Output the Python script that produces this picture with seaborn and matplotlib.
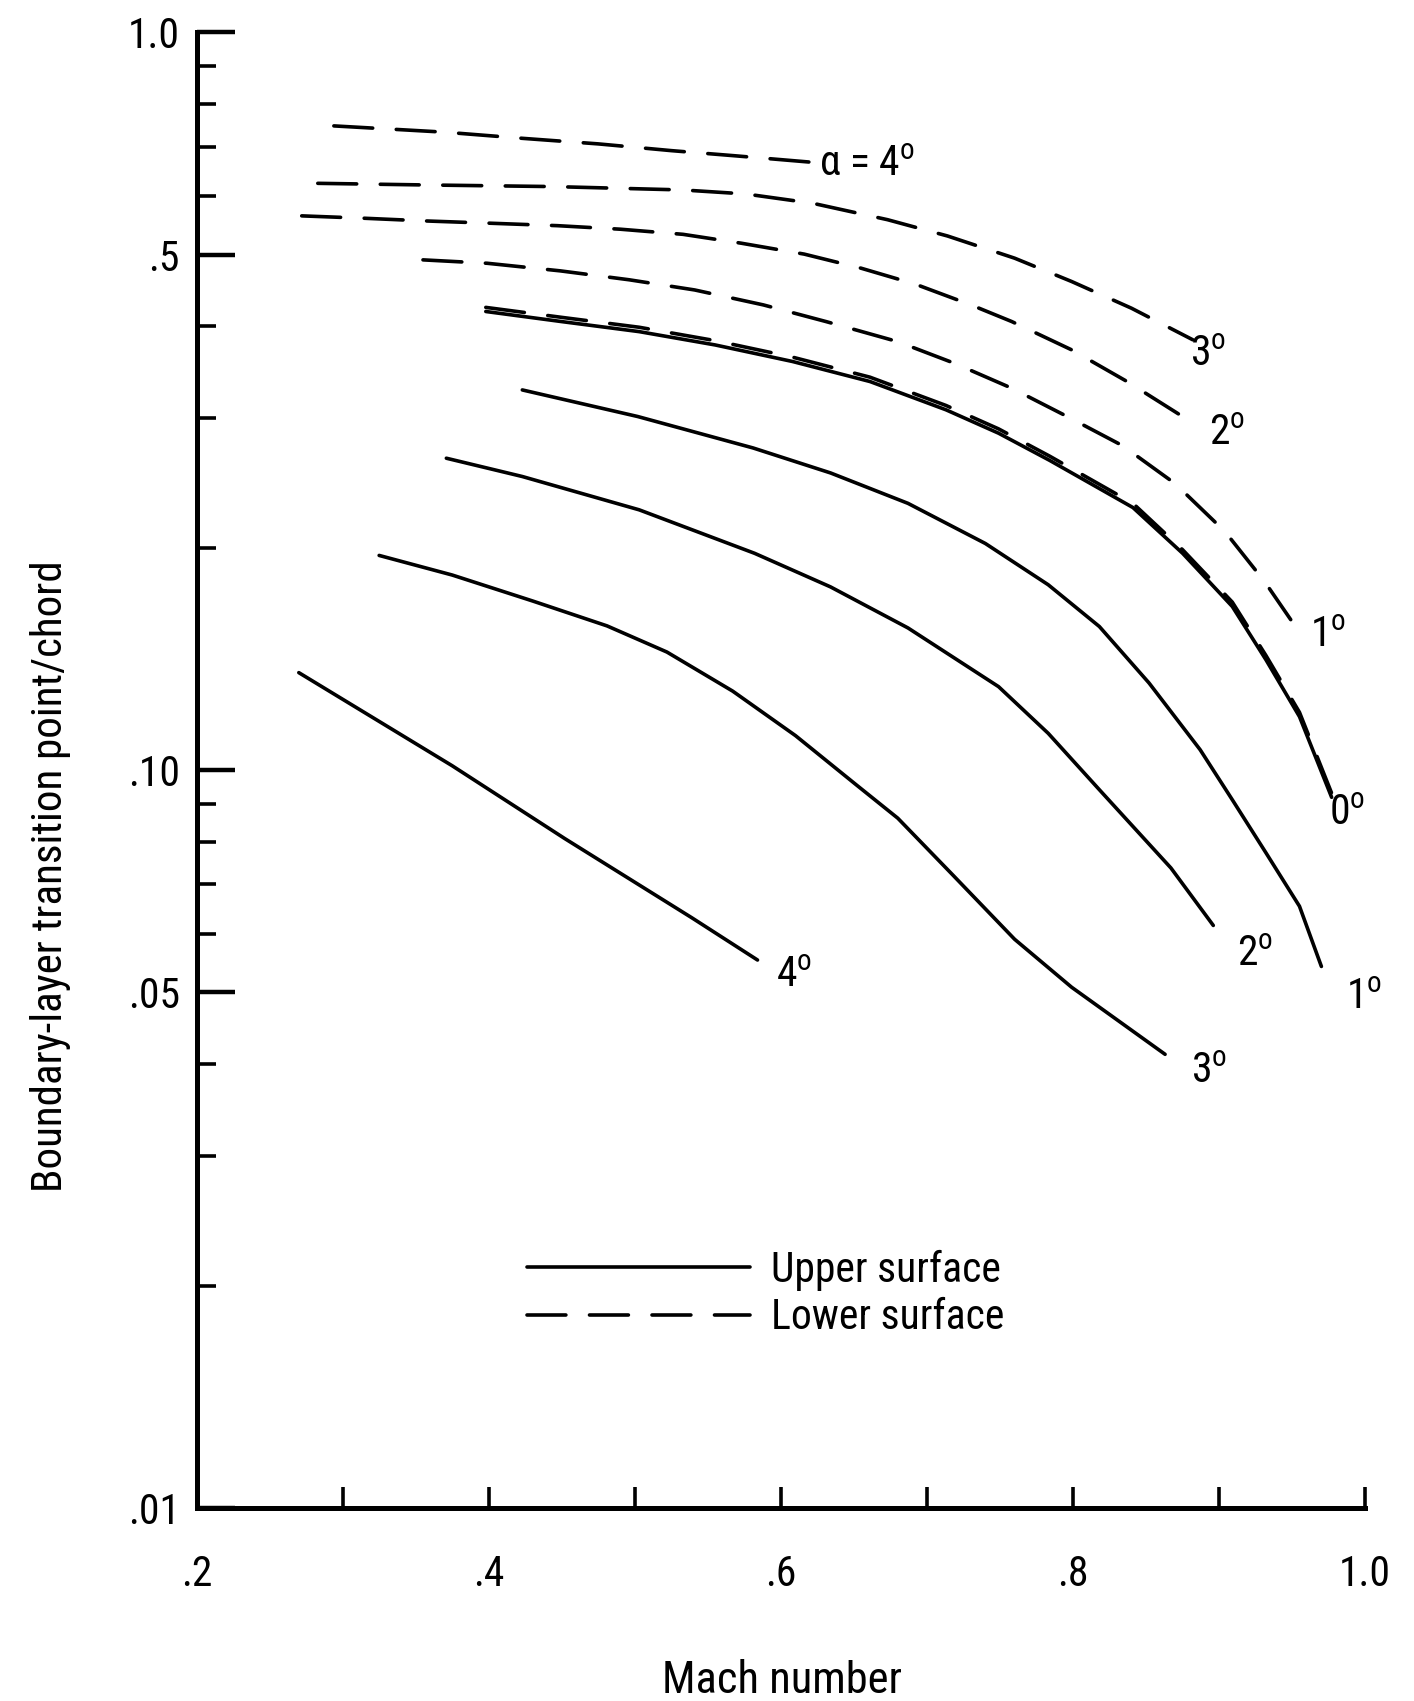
import numpy as np
import pandas as pd
import matplotlib
matplotlib.use("Agg")
import matplotlib.pyplot as plt
from matplotlib.lines import Line2D
from matplotlib.ticker import FixedLocator, FixedFormatter, NullFormatter
from matplotlib import font_manager as fm
import seaborn as sns

# ---------------- data ----------------
# Upper surface (solid lines)
upper_0_mach = [0.398, 0.450, 0.503, 0.555, 0.608, 0.661, 0.713, 0.749, 0.784, 0.841, 0.875, 0.909, 0.932, 0.955, 0.977]
upper_0_xtr = [0.4186, 0.4056, 0.3931, 0.3771, 0.3581, 0.3364, 0.3080, 0.2863, 0.2630, 0.2270, 0.1968, 0.1667, 0.1412, 0.1182, 0.0919]

upper_1_mach = [0.423, 0.502, 0.581, 0.634, 0.687, 0.740, 0.783, 0.818, 0.852, 0.887, 0.909, 0.932, 0.955, 0.970]
upper_1_xtr = [0.3277, 0.3016, 0.2734, 0.2529, 0.2300, 0.2029, 0.1784, 0.1566, 0.1313, 0.1066, 0.0912, 0.0773, 0.0654, 0.0542]

upper_2_mach = [0.371, 0.423, 0.503, 0.582, 0.634, 0.687, 0.749, 0.783, 0.818, 0.841, 0.867, 0.896]
upper_2_xtr = [0.2648, 0.2501, 0.2254, 0.1968, 0.1772, 0.1559, 0.1298, 0.1122, 0.0941, 0.0839, 0.0737, 0.0616]

upper_3_mach = [0.325, 0.375, 0.430, 0.481, 0.522, 0.567, 0.610, 0.652, 0.680, 0.718, 0.760, 0.799, 0.863]
upper_3_xtr = [0.1955, 0.1839, 0.1696, 0.1569, 0.1446, 0.1280, 0.1114, 0.0954, 0.0861, 0.0720, 0.0590, 0.0508, 0.0412]

upper_4_mach = [0.270, 0.375, 0.452, 0.539, 0.584]
upper_4_xtr = [0.1356, 0.1014, 0.0808, 0.0631, 0.0553]

# Lower surface (dashed lines)
lower_0_mach = [0.398, 0.450, 0.503, 0.555, 0.608, 0.661, 0.713, 0.749, 0.784, 0.841, 0.875, 0.909, 0.932, 0.955, 0.977]
lower_0_xtr = [0.4240, 0.4110, 0.3985, 0.3822, 0.3630, 0.3410, 0.3122, 0.2902, 0.2665, 0.2300, 0.1990, 0.1690, 0.1431, 0.1198, 0.0931]

lower_1_mach = [0.355, 0.399, 0.449, 0.496, 0.541, 0.588, 0.631, 0.680, 0.719, 0.758, 0.796, 0.834, 0.870, 0.904, 0.931, 0.949]
lower_1_xtr = [0.4918, 0.4866, 0.4752, 0.4622, 0.4477, 0.4273, 0.4056, 0.3810, 0.3560, 0.3295, 0.3016, 0.2753, 0.2445, 0.2106, 0.1803, 0.1600]

lower_2_mach = [0.272, 0.315, 0.357, 0.401, 0.447, 0.490, 0.533, 0.573, 0.616, 0.655, 0.692, 0.730, 0.758, 0.799, 0.837, 0.875]
lower_2_xtr = [0.5642, 0.5600, 0.5553, 0.5514, 0.5472, 0.5412, 0.5326, 0.5180, 0.5007, 0.4791, 0.4559, 0.4274, 0.4057, 0.3714, 0.3364, 0.3016]

lower_3_mach = [0.283, 0.355, 0.444, 0.533, 0.576, 0.622, 0.673, 0.714, 0.760, 0.799, 0.840, 0.882]
lower_3_xtr = [0.6245, 0.6214, 0.6182, 0.6117, 0.6041, 0.5867, 0.5575, 0.5299, 0.4944, 0.4597, 0.4229, 0.3832]

lower_4_mach = [0.294, 0.370, 0.423, 0.475, 0.525, 0.570, 0.621]
lower_4_xtr = [0.7471, 0.7326, 0.7187, 0.7063, 0.6916, 0.6802, 0.6670]

# Curve annotations
label_texts = ["α = 4$^{\\mathregular{o}}$", "3$^{\\mathregular{o}}$", "2$^{\\mathregular{o}}$",
               "1$^{\\mathregular{o}}$", "0$^{\\mathregular{o}}$", "1$^{\\mathregular{o}}$",
               "2$^{\\mathregular{o}}$", "3$^{\\mathregular{o}}$", "4$^{\\mathregular{o}}$"]
label_mach = [0.626, 0.880, 0.893, 0.962, 0.975, 0.987, 0.912, 0.881, 0.597]
label_xtr = [0.6395, 0.3536, 0.2762, 0.1471, 0.0844, 0.0475, 0.0543, 0.0377, 0.0508]

# Axis ticks
x_ticks = [0.2, 0.3, 0.4, 0.5, 0.6, 0.7, 0.8, 0.9, 1.0]
x_ticklabels = [".2", "", ".4", "", ".6", "", ".8", "", "1.0"]
y_major = [0.01, 0.05, 0.1, 0.5, 1.0]
y_major_labels = [".01", ".05", ".10", ".5", "1.0"]
y_minor = [0.02, 0.03, 0.04, 0.06, 0.07, 0.08, 0.09, 0.2, 0.3, 0.4, 0.6, 0.7, 0.8, 0.9]

# ---------------- build long table ----------------
series = {
    ("Upper surface", 0): (upper_0_mach, upper_0_xtr),
    ("Upper surface", 1): (upper_1_mach, upper_1_xtr),
    ("Upper surface", 2): (upper_2_mach, upper_2_xtr),
    ("Upper surface", 3): (upper_3_mach, upper_3_xtr),
    ("Upper surface", 4): (upper_4_mach, upper_4_xtr),
    ("Lower surface", 0): (lower_0_mach, lower_0_xtr),
    ("Lower surface", 1): (lower_1_mach, lower_1_xtr),
    ("Lower surface", 2): (lower_2_mach, lower_2_xtr),
    ("Lower surface", 3): (lower_3_mach, lower_3_xtr),
    ("Lower surface", 4): (lower_4_mach, lower_4_xtr),
}
rows = []
for (surf, alpha), (m, t) in series.items():
    for mi, ti in zip(m, t):
        rows.append({"surface": surf, "alpha": alpha, "curve": f"{surf}-{alpha}", "Mach": mi, "xtr": ti})
df = pd.DataFrame(rows)

# ---------------- style ----------------
sns.set_theme(style="white")

names = {f.name for f in fm.fontManager.ttflist}
cands = ["Liberation Sans Narrow", "Roboto Condensed", "Open Sans Condensed", "Noto Sans Condensed",
         "DejaVu Sans Condensed", "Arial Narrow"]
main_font = next((c for c in cands if c in names), None)
stretch = "normal"
if main_font is None:
    cond = [f for f in fm.fontManager.ttflist
            if f.name in ("Roboto", "Noto Sans", "Open Sans", "DejaVu Sans", "Lato", "Inter")
            and "condensed" in str(f.stretch) and f.style == "normal"]
    if cond:
        main_font = cond[0].name
        stretch = "condensed"
    else:
        main_font = "Liberation Sans" if "Liberation Sans" in names else "DejaVu Sans"

plt.rcParams["font.family"] = [main_font, "DejaVu Sans"]
plt.rcParams["font.stretch"] = stretch
plt.rcParams["mathtext.fontset"] = "custom"
plt.rcParams["mathtext.rm"] = main_font
plt.rcParams["mathtext.it"] = main_font
plt.rcParams["lines.scale_dashes"] = False
plt.rcParams["axes.edgecolor"] = "black"
plt.rcParams["text.color"] = "black"
plt.rcParams["axes.labelcolor"] = "black"
plt.rcParams["xtick.color"] = "black"
plt.rcParams["ytick.color"] = "black"

FS = 30
fig = plt.figure(figsize=(14.14, 17.01), dpi=100)
ax = fig.add_axes([0.139, 0.1135, 0.8265, 0.8674])

lw = 2.6
dash = (28, 17)
sns.lineplot(data=df, x="Mach", y="xtr", units="curve", estimator=None, sort=False,
             style="surface", dashes={"Upper surface": "", "Lower surface": dash},
             color="black", linewidth=lw, legend=False, ax=ax)
for line in ax.get_lines():
    line.set_solid_capstyle("round")
    line.set_dash_capstyle("round")
    line.set_solid_joinstyle("round")

ax.set_yscale("log")
ax.set_xlim(0.2, 1.0)
ax.set_ylim(0.01, 1.0)

ax.yaxis.set_major_locator(FixedLocator(y_major))
ax.yaxis.set_major_formatter(FixedFormatter(y_major_labels))
ax.yaxis.set_minor_locator(FixedLocator(y_minor))
ax.yaxis.set_minor_formatter(NullFormatter())
ax.set_xticks(x_ticks)
ax.set_xticklabels(x_ticklabels)

ax.tick_params(axis="y", which="major", direction="in", length=27, width=3.2, pad=12,
               labelsize=FS, left=True)
ax.tick_params(axis="y", which="minor", direction="in", length=14, width=2.6, left=True)
ax.tick_params(axis="x", which="major", direction="in", length=15, width=2.6, pad=33,
               labelsize=FS, bottom=True)

for s in ["top", "right"]:
    ax.spines[s].set_visible(False)
for s in ["left", "bottom"]:
    ax.spines[s].set_linewidth(3.6)

ax.set_xlabel("Mach number", fontsize=FS + 2)
ax.set_ylabel("Boundary-layer transition point/chord", fontsize=FS + 1)
ax.xaxis.set_label_coords(0.501, -0.103)
ax.yaxis.set_label_coords(-0.107, 0.428)

for txt, mx, ty in zip(label_texts, label_mach, label_xtr):
    ax.text(mx, ty, txt, fontsize=FS, ha="left", va="baseline")

handles = [Line2D([], [], color="black", lw=lw, solid_capstyle="round"),
           Line2D([], [], color="black", lw=lw, linestyle=(0, dash), dash_capstyle="round")]
leg = ax.legend(handles, ["Upper surface", "Lower surface"], loc="upper left",
                bbox_to_anchor=(0.283, 0.175), frameon=False, fontsize=FS,
                handlelength=5.35, handletextpad=0.5, labelspacing=0.15,
                borderpad=0.0, borderaxespad=0.0)

fig.savefig("out.png", dpi=100)
